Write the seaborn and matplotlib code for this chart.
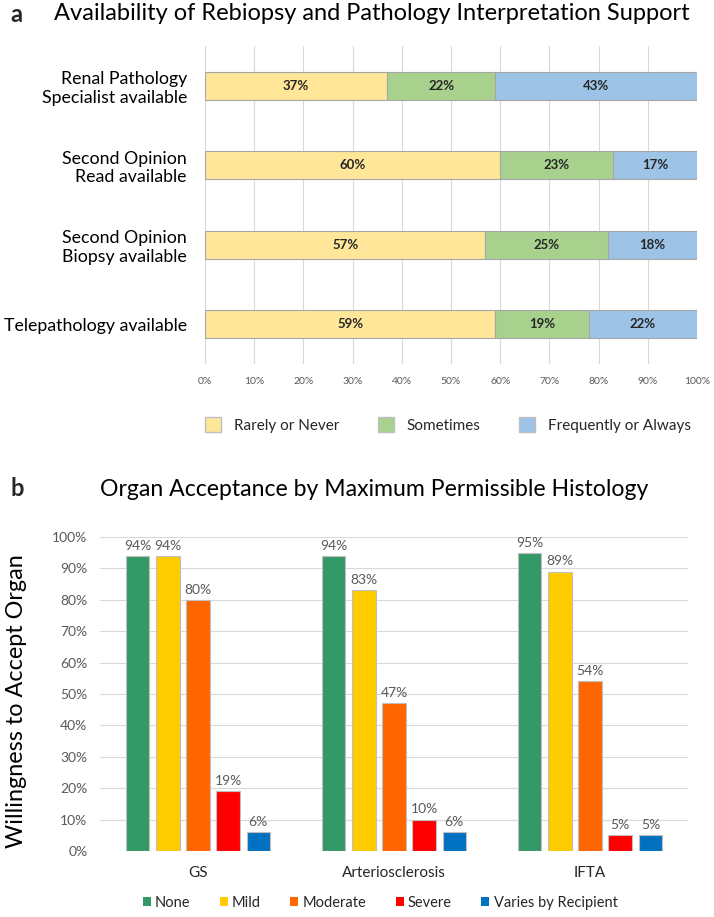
import matplotlib
matplotlib.use('Agg')
import matplotlib.pyplot as plt
from matplotlib.patches import Patch
import seaborn as sns
import numpy as np
import pandas as pd

# panel a: availability of rebiopsy / pathology support (% of respondents)
questions = ["Renal Pathology\nSpecialist available",
             "Second Opinion\nRead available",
             "Second Opinion\nBiopsy available",
             "Telepathology available"]
rarely_never = [37, 60, 57, 59]
sometimes = [22, 23, 25, 19]
frequently_always = [43, 17, 18, 22]
freq_labels = ["Rarely or Never", "Sometimes", "Frequently or Always"]
freq_colors = ["#FFE699", "#A9D18E", "#9DC3E6"]
pct_ticks = list(range(0, 101, 10))

# panel b: organ acceptance by maximum permissible histology (%)
histology = ["GS", "Arteriosclerosis", "IFTA"]
levels = ["None", "Mild", "Moderate", "Severe", "Varies by Recipient"]
accept_none = [94, 94, 95]
accept_mild = [94, 83, 89]
accept_moderate = [80, 47, 54]
accept_severe = [19, 10, 5]
accept_varies = [6, 6, 5]
level_colors = ["#339966", "#FFCC00", "#FF6600", "#FF0000", "#0070C0"]

sns.set_theme(style='white')
plt.rcParams['font.family'] = ['Lato', 'DejaVu Sans']

W, H = 714, 917
fig = plt.figure(figsize=(W / 100, H / 100), dpi=100)


def px_axes(left, top, right, bottom):
    return fig.add_axes([left / W, 1 - bottom / H, (right - left) / W, (bottom - top) / H])


GRID = '#D9D9D9'
TICK = '#595959'
DARK = '#262626'

# ---------------- panel a ----------------
ax_a = px_axes(205, 46, 697, 364)
df_a = pd.DataFrame({"question": questions,
                     "Rarely or Never": rarely_never,
                     "Sometimes": sometimes,
                     "Frequently or Always": frequently_always})
left = np.zeros(len(questions))
for name, color in zip(freq_labels, freq_colors):
    vals = df_a[name].to_numpy()
    sns.barplot(data=df_a, y="question", x=name, orient="h", color=color,
                saturation=1, width=0.35, errorbar=None, left=left,
                edgecolor='#A6A6A6', linewidth=0.8, ax=ax_a)
    ax_a.bar_label(ax_a.containers[-1], labels=[f'{v}%' for v in vals],
                   label_type='center', fontsize=9.5, fontweight='bold', color=DARK)
    left = left + vals

ax_a.set_xlim(0, 100)
ax_a.set_ylim(3.5, -0.5)
ax_a.set_xticks(pct_ticks)
ax_a.set_xticklabels([f'{t}%' for t in pct_ticks])
ax_a.set_xlabel('')
ax_a.set_ylabel('')
ax_a.grid(axis='x', color=GRID, linewidth=0.8)
ax_a.grid(axis='y', visible=False)
ax_a.set_axisbelow(True)
for s in ax_a.spines.values():
    s.set_visible(False)
ax_a.tick_params(axis='x', length=0, pad=9, labelsize=7.5, labelcolor=TICK)
ax_a.tick_params(axis='y', length=0, pad=13, labelsize=12.8, labelcolor='black')

fig.text(10 / W, 1 - 14 / H, 'a', fontsize=17, fontweight='bold', ha='left', va='center')
fig.text(372 / W, 1 - 14 / H, 'Availability of Rebiopsy and Pathology Interpretation Support',
         fontsize=17, ha='center', va='center', color='black')

fig.legend(handles=[Patch(facecolor=c, edgecolor='#BFBFBF', label=l)
                    for l, c in zip(freq_labels, freq_colors)],
           loc='center', bbox_to_anchor=(448 / W, 1 - 425 / H), ncol=3, frameon=False,
           fontsize=11, handlelength=1.05, handleheight=1.05, handletextpad=0.85,
           columnspacing=2.5)

# ---------------- panel b ----------------
ax_b = px_axes(100, 537, 688, 851)
series_b = {"None": accept_none, "Mild": accept_mild, "Moderate": accept_moderate,
            "Severe": accept_severe, "Varies by Recipient": accept_varies}
df_b = pd.DataFrame([(h, lvl, v) for lvl, vals in series_b.items()
                     for h, v in zip(histology, vals)],
                    columns=["histology", "level", "value"])
sns.barplot(data=df_b, x="histology", y="value", hue="level", order=histology,
            hue_order=levels, palette=level_colors, saturation=1, width=0.77, gap=0.22,
            errorbar=None, edgecolor='#BFBFBF', linewidth=0.8, legend=False, ax=ax_b)
for cont, lvl in zip(ax_b.containers, levels):
    ax_b.bar_label(cont, labels=[f'{v}%' for v in series_b[lvl]], padding=3,
                   fontsize=10, color=TICK)

ax_b.set_xlim(-0.5, 2.5)
ax_b.set_ylim(0, 100)
ax_b.set_yticks(pct_ticks)
ax_b.set_yticklabels([f'{t}%' for t in pct_ticks])
ax_b.set_xlabel('')
ax_b.set_ylabel('')
ax_b.grid(axis='y', color=GRID, linewidth=0.8)
ax_b.grid(axis='x', visible=False)
ax_b.set_axisbelow(True)
for s in ax_b.spines.values():
    s.set_visible(False)
ax_b.tick_params(axis='y', length=0, pad=9, labelsize=10, labelcolor=TICK)
ax_b.tick_params(axis='x', length=0, pad=11, labelsize=11, labelcolor=DARK)

fig.text(10 / W, 1 - 489 / H, 'b', fontsize=17, fontweight='bold', ha='left', va='center')
fig.text(374 / W, 1 - 489 / H, 'Organ Acceptance by Maximum Permissible Histology',
         fontsize=16.6, ha='center', va='center', color='black')
fig.text(17 / W, 1 - 701 / H, 'Willingness to Accept Organ', fontsize=16.8,
         rotation=90, ha='center', va='center', color='black')

fig.legend(handles=[Patch(facecolor=c, edgecolor='none', label=l)
                    for l, c in zip(levels, level_colors)],
           loc='center', bbox_to_anchor=(380 / W, 1 - 903 / H), ncol=5, frameon=False,
           fontsize=10.5, handlelength=0.55, handleheight=0.55, handletextpad=0.3,
           columnspacing=2.0, labelcolor=DARK)

fig.savefig('out.png', dpi=100)
